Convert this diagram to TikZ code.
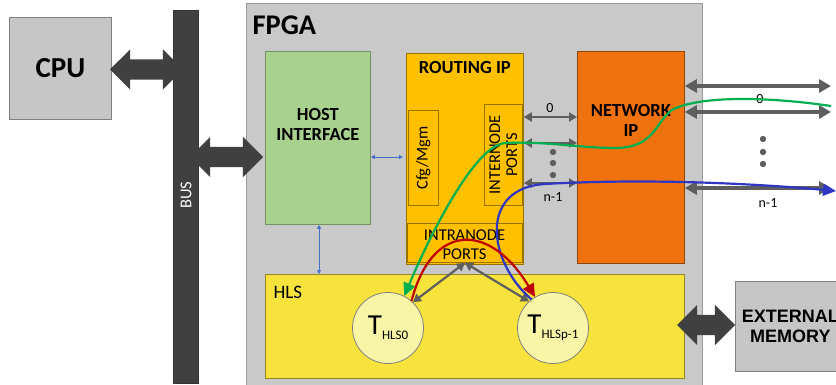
\documentclass[tikz,border=0pt]{standalone}
\usepackage{fontspec}
\setmainfont{Carlito}
\newfontfamily\arialfont{Liberation Sans}
\usetikzlibrary{shapes.arrows,arrows.meta}

\definecolor{fpgagray}{HTML}{C9C9C9}
\definecolor{boxgray}{HTML}{C6C6C6}
\definecolor{busgray}{HTML}{404040}
\definecolor{hostgreen}{HTML}{A9D18E}
\definecolor{routorange}{HTML}{FFC000}
\definecolor{netorange}{HTML}{EF720E}
\definecolor{hlsyellow}{HTML}{F8E23C}
\definecolor{taskyellow}{HTML}{F8F5A6}
\definecolor{portgray}{HTML}{5E5E5E}
\definecolor{linkblue}{HTML}{4472C4}
\definecolor{pathgreen}{HTML}{00B050}
\definecolor{pathblue}{HTML}{2F36C4}
\definecolor{pathred}{HTML}{C00000}

\newcommand\hdr{\fontsize{18.5}{20}\selectfont\bfseries}
\newcommand\txt{\fontsize{16.5}{19}\selectfont}
\newcommand\tsk[1]{{\fontsize{29}{29}\selectfont T}\raisebox{-5pt}{\fontsize{13}{13}\selectfont #1}}

\begin{document}
\begin{tikzpicture}[x=1pt,y=-1pt,
	blk/.style={draw=#1, line width=0.8pt, anchor=north west, inner sep=0pt},
	bigarrow/.style={double arrow, fill=busgray, inner xsep=0pt, inner ysep=10pt, double arrow head extend=10pt},
	port/.style={draw=portgray, line width=2.2pt, {Triangle[length=8pt,width=9pt]}-{Triangle[length=8pt,width=9pt]}},
	link/.style={draw=portgray, line width=4pt, {Triangle[length=12pt,width=13pt]}-{Triangle[length=12pt,width=13pt]}},
	thin/.style={draw=linkblue, line width=0.9pt, {Triangle[length=4pt,width=4pt]}-{Triangle[length=4pt,width=4pt]}},
	task/.style={circle, draw=gray, line width=0.8pt, fill=taskyellow, minimum size=71pt, inner sep=0pt},
	flow/.style={line width=2.2pt, -{Triangle[length=13pt,width=12pt]}}]
	%画布大小
	\useasboundingbox (0,0) rectangle (836,385);
	%CPU与总线
	\node [blk=gray, fill=boxgray, minimum width=102pt, minimum height=102pt, font=\fontsize{29}{29}\selectfont\bfseries] (cpu) at (9,17) {CPU};
	\node [blk=black!80, fill=busgray, minimum width=25pt, minimum height=373pt] (bus) at (173,10) {};
	\node [rotate=90, text=white, font=\txt] (buslbl) at (186,195) {BUS};
	%FPGA外框
	\node [blk=gray!80, fill=fpgagray, minimum width=456pt, minimum height=395pt,
		label={[anchor=west, xshift=3pt, yshift=-22pt, font=\fontsize{28.5}{28}\selectfont\bfseries]north west:FPGA}] (fpga) at (246,3) {};
	%主机接口
	\node [blk=hostgreen!70!black, fill=hostgreen, minimum width=105pt, minimum height=173pt,
		label={[anchor=center, yshift=-73pt, font=\hdr, align=center]north:HOST\\INTERFACE}] (host) at (265,51) {};
	%路由IP
	\node [blk=routorange!60!black, fill=routorange, minimum width=117pt, minimum height=211pt,
		label={[anchor=center, yshift=-15pt, font=\hdr]north:ROUTING IP}] (rout) at (406,53) {};
	\node [blk=routorange!60!black, fill=routorange, minimum width=30pt, minimum height=95pt] (cfg) at (408,110) {};
	\node [rotate=90, font=\txt] (cfglbl) at (cfg.center) {Cfg/Mgm};
	\node [blk=routorange!60!black, fill=routorange, minimum width=38pt, minimum height=101pt] (inter) at (484,104) {};
	\node [rotate=90, font=\txt, align=center] (interlbl) at (inter.center) {INTERNODE\\[-2pt]PORTS};
	\node [blk=routorange!60!black, fill=routorange, minimum width=115pt, minimum height=39pt] (intra) at (407,223) {};
	\node [font=\txt, align=center] (intralbl) at (464.5,245) {INTRANODE\\PORTS};
	%网络IP
	\node [blk=netorange!60!black, fill=netorange, minimum width=107pt, minimum height=212pt,
		label={[anchor=center, yshift=-69pt, font=\hdr, align=center]north:NETWORK\\IP}] (net) at (577,51) {};
	%HLS区域
	\node [blk=hlsyellow!60!black, fill=hlsyellow, minimum width=419pt, minimum height=104pt,
		label={[anchor=west, xshift=5pt, yshift=-18pt, font=\fontsize{19}{19}\selectfont]north west:HLS}] (hls) at (265,274) {};
	\node [task] (t0) at (388,328) {\tsk{HLS0}};
	\node [task] (tp) at (553,328) {\tsk{HLSp-1}};
	%外部存储
	\node [blk=gray, fill=boxgray, minimum width=110pt, minimum height=90pt, align=center,
		font=\arialfont\fontsize{18}{20}\selectfont\bfseries] (mem) at (735,281) {EXTERNAL\\MEMORY};
	%粗双向箭头
	\node [bigarrow, minimum height=73pt] (cpubus) at (146.5,69.5) {};
	\node [bigarrow, minimum height=73pt] (bushost) at (226.5,157) {};
	\node [bigarrow, minimum height=58pt] (hlsmem) at (706,325) {};
	%细蓝色箭头
	\draw [thin, shorten >=3pt] (host.east |- 0,157) -- (rout.west |- 0,157);
	\draw [thin] (host.south -| 319,0) -- (hls.north -| 319,0);
	%路由IP与网络IP之间的端口
	\foreach \yy in {117,143,183}
		\draw [port] (rout.east |- 0,\yy) -- (net.west |- 0,\yy);
	\node [font=\fontsize{14}{14}\selectfont] (p0) at (550,108) {0};
	\node [font=\fontsize{14}{14}\selectfont] (pn) at (553,197) {n-1};
	\foreach \yy in {152,163,175}
		\fill [portgray] (553,\yy) circle (3.2);
	%对外链路
	\coordinate (e0) at (831,86);
	\coordinate (e1) at (831,112);
	\coordinate (en) at (831,188);
	\foreach \c in {e0,e1,en}
		\draw [link] (net.east |- \c) -- (\c);
	\node [font=\fontsize{14}{14}\selectfont] (l0) at (760,99) {0};
	\node [font=\fontsize{14}{14}\selectfont] (ln) at (768,203) {n-1};
	\foreach \yy in {139,152,164}
		\fill [portgray] (763,\yy) circle (3.2);
	%片内端口到任务
	\draw [port] (intra.south) -- (t0.46);
	\draw [port] (intra.south) -- (tp.132);
	%数据通路
	\coordinate (gin) at (831,106);
	\draw [flow, pathgreen] (gin) .. controls (770,97) and (700,95) .. (672,110)
		.. controls (655,122) and (655,148) .. (615,148)
		.. controls (580,148) and (545,141) .. (505,143)
		.. controls (475,145) and (430,235) .. (t0.63);
	\coordinate (bout) at (836,191);
	\draw [flow, pathblue] (tp.127) .. controls (488,262) and (478,188) .. (545,184)
		.. controls (650,178) and (760,184) .. (bout);
	\draw [flow, pathred] (t0.49) .. controls (432,222) and (490,222) .. (tp.120);
\end{tikzpicture}
\end{document}
